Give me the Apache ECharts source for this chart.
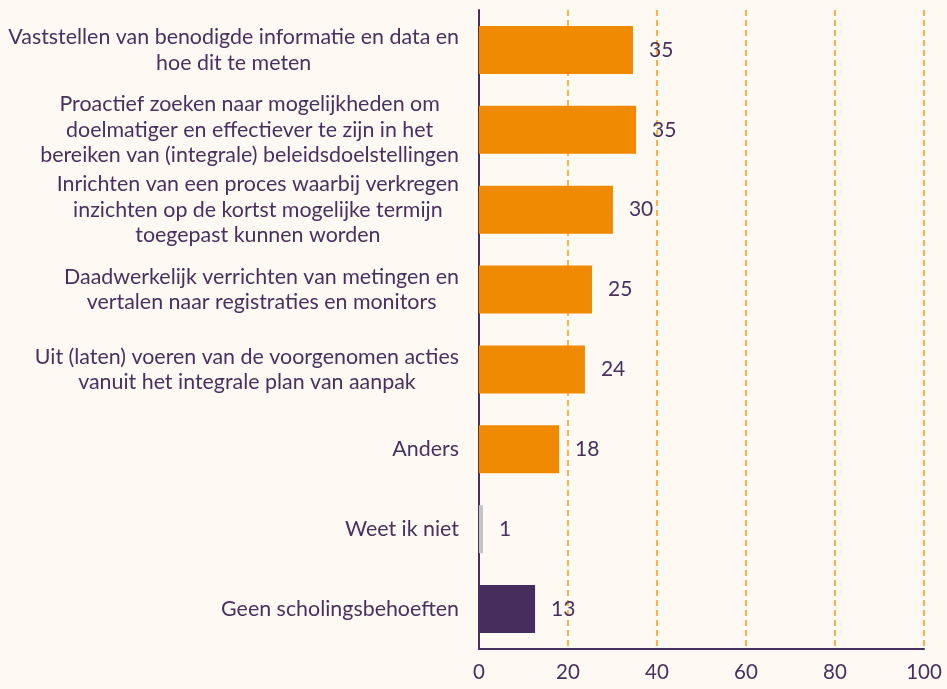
<!DOCTYPE html>
<html>
<head>
<meta charset="utf-8">
<script src="https://cdn.jsdelivr.net/npm/echarts@6/dist/echarts.min.js"></script>
<style>
  html, body { margin: 0; padding: 0; background: #fef9f2; }
  #chart { width: 947px; height: 689px; }
</style>
</head>
<body>
<div id="chart"></div>
<script>
// categories top to bottom
var categories = [
    'Vaststellen van benodigde informatie en data en\nhoe dit te meten',
    'Proactief zoeken naar mogelijkheden om\ndoelmatiger en effectiever te zijn in het\nbereiken van (integrale) beleidsdoelstellingen',
    'Inrichten van een proces waarbij verkregen\ninzichten op de kortst mogelijke termijn\ntoegepast kunnen worden',
    'Daadwerkelijk verrichten van metingen en\nvertalen naar registraties en monitors',
    'Uit (laten) voeren van de voorgenomen acties\nvanuit het integrale plan van aanpak',
    'Anders',
    'Weet ik niet',
    'Geen scholingsbehoeften'
];
var values = [34.6, 35.3, 30.1, 25.4, 23.8, 18.0, 0.9, 12.6];
var barColors = ['#f08a00', '#f08a00', '#f08a00', '#f08a00', '#f08a00', '#f08a00', '#c4c4c4', '#472c5e'];
var xTicks = [0, 20, 40, 60, 80, 100];

var textColor = '#4a2f60';

var chart = echarts.init(document.getElementById('chart'));

var option = {
    backgroundColor: '#fef9f2',
    textStyle: { fontFamily: 'Lato' },
    grid: { left: 479, right: 23, top: 10, bottom: 40, containLabel: false },
    xAxis: {
        type: 'value',
        min: xTicks[0],
        max: xTicks[xTicks.length - 1],
        interval: 20,
        axisLine: { show: true, lineStyle: { color: textColor, width: 2 } },
        axisTick: { show: false },
        axisLabel: { color: textColor, fontSize: 20.5, fontFamily: 'Lato', margin: 13 },
        splitLine: { show: true, lineStyle: { color: '#f9b04f', width: 2, type: [6, 4] } }
    },
    yAxis: {
        type: 'category',
        inverse: true,
        data: categories,
        axisLine: { show: true, lineStyle: { color: textColor, width: 2 } },
        axisTick: { show: false },
        axisLabel: {
            margin: 20,
            formatter: function (v) {
                return v.split('\n').map(function (s) { return '{a|' + s + '}'; }).join('\n');
            },
            rich: {
                a: { color: textColor, fontSize: 21.4, fontFamily: 'Lato', lineHeight: 25.5, align: 'center' }
            }
        }
    },
    series: [{
        type: 'bar',
        barWidth: 48,
        data: values.map(function (v, i) {
            return { value: v, itemStyle: { color: barColors[i] } };
        }),
        label: {
            show: true,
            position: 'right',
            distance: 16,
            color: textColor,
            fontSize: 21,
            fontFamily: 'Lato',
            formatter: function (p) { return Math.round(p.value); }
        },
        z: 3
    }]
};

chart.setOption(option);
</script>
</body>
</html>
